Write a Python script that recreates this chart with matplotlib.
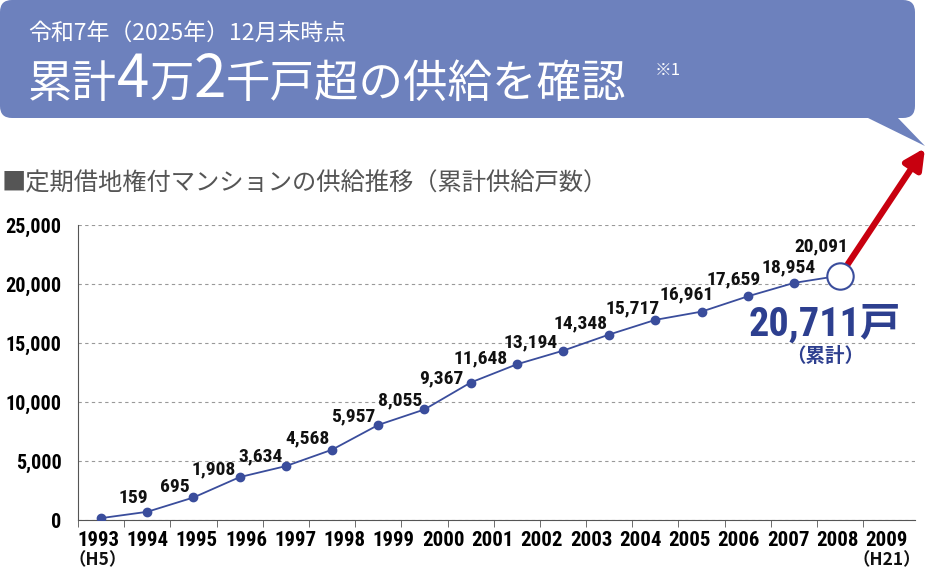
import matplotlib
matplotlib.use("Agg")
import matplotlib.pyplot as plt
import numpy as np
from matplotlib import font_manager
from matplotlib.patches import FancyBboxPatch, Polygon

# pick a narrow latin face for the numbers if one is there
names = {f.name for f in font_manager.fontManager.ttflist}
stretches = {(f.name, f.stretch) for f in font_manager.fontManager.ttflist}
narrow = 'Roboto'
num_stretch = 'normal'
for cand in ['Liberation Sans Narrow', 'Roboto Condensed', 'Open Sans Condensed']:
    if cand in names:
        narrow = cand
        break
else:
    if ('DejaVu Sans', 'condensed') in stretches or ('DejaVu Sans', 'semi-condensed') in stretches:
        narrow = 'DejaVu Sans'
        num_stretch = 'condensed'

plt.rcParams['font.family'] = ['Noto Sans CJK JP', 'DejaVu Sans']
numfam = [narrow, 'Noto Sans CJK JP', 'DejaVu Sans']

# cumulative supply (units), 1993 .. 2009
years = ['1993', '1994', '1995', '1996', '1997', '1998', '1999', '2000', '2001',
         '2002', '2003', '2004', '2005', '2006', '2007', '2008', '2009']
eras = {0: '（H5）', 16: '（H21）'}
values = [159, 695, 1908, 3634, 4568, 5957, 8055, 9367, 11648, 13194, 14348,
          15717, 16961, 17659, 18954, 20091, 20711]
yticks = [0, 5000, 10000, 15000, 20000, 25000]

# where each value label sits relative to its point (pixels)
lab_dx = [32, 28, 20, 21, 22, 21, 22, 17, 10, 14, 17, 23, 31, 32, 41, 27]
lab_dy = [20, 25, 28, 21, 28, 33, 25, 31, 24, 22, 27, 26, 25, 32, 29, 37]

title1 = '令和7年（2025年）12月末時点'
title2 = [('累計', 32), ('4', 42), ('万', 32), ('2', 42), ('千戸超の供給を確認', 32)]
subtitle = '■定期借地権付マンションの供給推移（累計供給戸数）'

line_col = '#3a4d9c'
banner_col = '#6d81bd'

W, H = 926, 571
fig = plt.figure(figsize=(W / 100, H / 100), dpi=100)
ax = fig.add_axes([78 / W, (H - 520) / H, (915 - 78) / W, (520 - 225) / H])

x = np.arange(len(values))
ax.plot(x, values, color=line_col, lw=1.3, zorder=3)
ax.plot(x[:-1], values[:-1], 'o', color=line_col, ms=6, zorder=4)
ax.plot(x[-1], values[-1], 'o', mfc='white', mec=line_col, mew=1.5, ms=19, zorder=5)

# value labels (all but the last point)
for i in range(len(values) - 1):
    ax.annotate(f'{values[i]:,}', (x[i], values[i]), xytext=(lab_dx[i], lab_dy[i]),
                textcoords='offset pixels', ha='center', va='center',
                family=numfam, fontstretch=num_stretch,
                fontsize=14, fontweight='bold', color='#111111', zorder=6)

ax.set_xlim(-0.5, 17.62)
ax.set_ylim(0, 25000)
ax.set_yticks(yticks, [f'{v:,}' for v in yticks])
ax.tick_params(axis='y', length=0, pad=12)
for lab in ax.get_yticklabels():
    lab.set_fontweight('bold')
    lab.set_family(numfam)
    lab.set_fontstretch(num_stretch)
    lab.set_fontsize(14.5)
ax.yaxis.grid(True, color='#999999', lw=0.8, ls=(0, (3, 3)))
ax.set_axisbelow(True)

# year labels spread a bit wider than the bands
year_pos = np.arange(len(years)) * 1.067 - 0.065
ax.set_xticks(year_pos, years)
ax.tick_params(axis='x', length=0, pad=8)
for lab in ax.get_xticklabels():
    lab.set_fontweight('bold')
    lab.set_family(numfam)
    lab.set_fontstretch(num_stretch)
    lab.set_fontsize(15)
for i, era in eras.items():
    ax.annotate(era, (year_pos[i], 0), xytext=(0, -40), textcoords='offset pixels',
                ha='center', va='center', fontsize=12.5, fontweight='bold',
                color='#111111', annotation_clip=False)
ax.set_xticks(np.arange(len(values) + 1) - 0.5, minor=True)
ax.tick_params(axis='x', which='minor', length=5, direction='out', color='#555555')

for s in ['top', 'right']:
    ax.spines[s].set_visible(False)
ax.spines['left'].set_color('#555555')
ax.spines['bottom'].set_color('#555555')

# red arrow out of the last point
ax.annotate('', xy=(925, H - 148), xycoords='figure pixels',
            xytext=(x[-1], values[-1]), textcoords='data',
            arrowprops=dict(arrowstyle='-|>', color='#c8000f', lw=4.5,
                            mutation_scale=30, shrinkA=10, shrinkB=0))

# overlay in pixel coordinates for the banner and texts
ov = fig.add_axes([0, 0, 1, 1])
ov.set_xlim(0, W)
ov.set_ylim(H, 0)
ov.axis('off')
ov.patch.set_visible(False)

ov.add_patch(FancyBboxPatch((0, 0), 915, 118, boxstyle='round,pad=0,rounding_size=12',
                            fc=banner_col, ec='none'))
ov.add_patch(Polygon([(866, 117), (897, 117), (925, 146)], closed=True, fc=banner_col, ec='none'))

ov.text(28, 33, title1, color='white', fontsize=16.5, va='center', ha='left')
prev = ov.text(28, 97, title2[0][0], color='white', fontsize=title2[0][1], va='baseline', ha='left')
for txt, sz in title2[1:]:
    prev = ov.annotate(txt, xy=(1, 97), xycoords=(prev, 'data'), color='white',
                       fontsize=sz, va='baseline', ha='left')
ov.annotate('※1', xy=(1, 70), xycoords=(prev, 'data'), xytext=(28, 0), textcoords='offset pixels',
            color='white', fontsize=12, va='center', ha='left')

ov.text(2, 184, subtitle, color='#555555', fontsize=17.5, va='center', ha='left')

ov.text(825, 324, f'{values[-1]:,}戸', color='#2d3f8f', fontsize=29, fontweight='bold',
        family=numfam, fontstretch=num_stretch, ha='center', va='center')
ov.text(825, 357, '（累計）', color='#2d3f8f', fontsize=14, fontweight='bold',
        ha='center', va='center')

fig.savefig('out.png', dpi=100)
